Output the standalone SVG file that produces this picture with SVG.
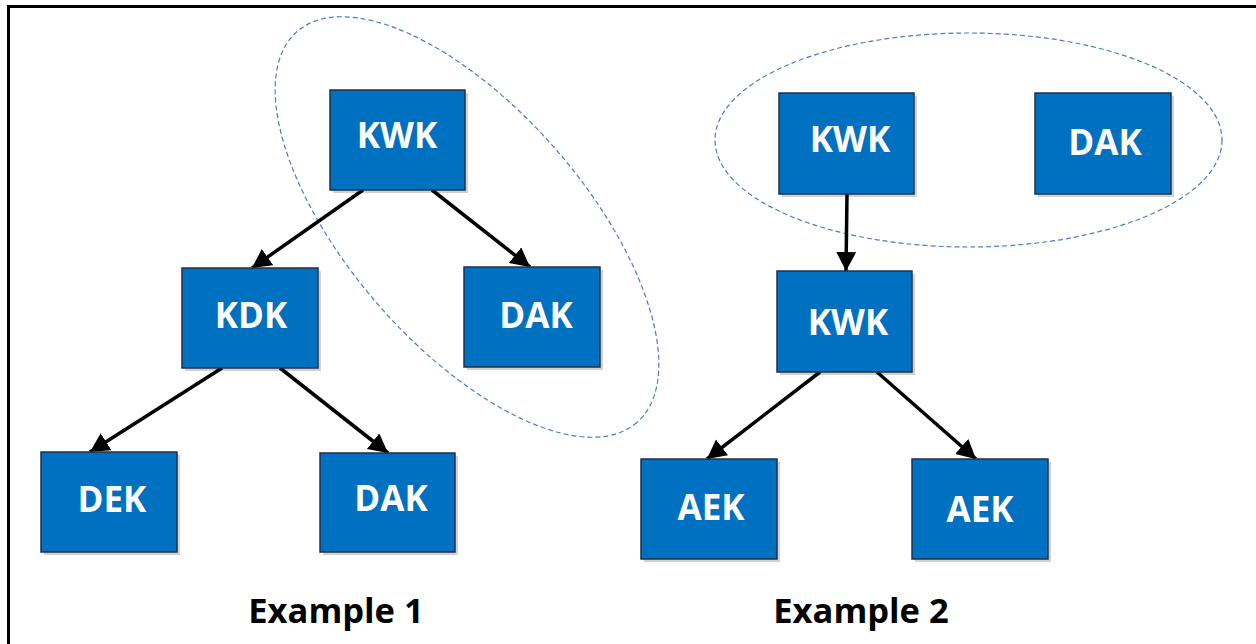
<svg xmlns="http://www.w3.org/2000/svg" width="1256" height="644" viewBox="0 0 1256 644">
  <style>
    .box { fill: #0070C0; stroke: #1F2F4A; stroke-width: 1.5; }
    .shadow { fill: #000; opacity: 0.18; }
    .lbl { font-family: "Open Sans", "Liberation Sans", sans-serif; font-weight: bold; font-size: 35px; fill: #FFFFFF; text-anchor: middle; }
    .cap { font-family: "Open Sans", "Liberation Sans", sans-serif; font-weight: bold; font-size: 34.5px; fill: #000000; text-anchor: middle; }
    .edge { stroke: #000; stroke-width: 3.5; fill: none; marker-end: url(#arr); }
    .group { fill: none; stroke: #4F7BC4; stroke-width: 1.2; stroke-dasharray: 5 3; }
  </style>
  <defs>
    <marker id="arr" markerUnits="userSpaceOnUse" markerWidth="22" markerHeight="22" viewBox="0 0 22 22" refX="19" refY="10" orient="auto">
      <path d="M0,0 L19,10 L0,20 z" fill="#000"/>
    </marker>
  </defs>
  <rect x="0" y="0" width="1256" height="644" fill="#FFFFFF"/>
  <path d="M8.5,650 L8.5,6.5 L1260,6.5" fill="none" stroke="#000" stroke-width="3"/>

  <g id="groups">
    <ellipse class="group" cx="467" cy="227" rx="259" ry="118" transform="rotate(49 467 227)"/>
    <ellipse class="group" cx="968.5" cy="140" rx="253.5" ry="107"/>
  </g>

  <g id="connectors">
    <line class="edge" x1="363" y1="190" x2="252" y2="268"/>
    <line class="edge" x1="432" y1="190" x2="530" y2="267"/>
    <line class="edge" x1="222" y1="368" x2="90" y2="452"/>
    <line class="edge" x1="280" y1="368" x2="388" y2="453"/>
    <line class="edge" x1="847" y1="194" x2="846" y2="271"/>
    <line class="edge" x1="820" y1="372" x2="707" y2="459"/>
    <line class="edge" x1="877" y1="372" x2="976" y2="459"/>
  </g>

  <g id="kwk1">
    <rect class="shadow" x="333" y="93" width="135" height="100"/>
    <rect class="box" x="330" y="90" width="135" height="100"/>
    <text class="lbl" x="397" y="148">KWK</text>
  </g>
  <g id="kdk">
    <rect class="shadow" x="185" y="271" width="136" height="100"/>
    <rect class="box" x="182" y="268" width="136" height="100"/>
    <text class="lbl" x="251" y="328">KDK</text>
  </g>
  <g id="dak1">
    <rect class="shadow" x="467" y="270" width="136" height="100"/>
    <rect class="box" x="464" y="267" width="136" height="100"/>
    <text class="lbl" x="536" y="328">DAK</text>
  </g>
  <g id="dek">
    <rect class="shadow" x="44" y="455" width="136" height="100"/>
    <rect class="box" x="41" y="452" width="136" height="100"/>
    <text class="lbl" x="112" y="512">DEK</text>
  </g>
  <g id="dak2">
    <rect class="shadow" x="323" y="456" width="135" height="99"/>
    <rect class="box" x="320" y="453" width="135" height="99"/>
    <text class="lbl" x="391" y="511">DAK</text>
  </g>
  <g id="kwk2">
    <rect class="shadow" x="782" y="96" width="135" height="101"/>
    <rect class="box" x="779" y="93" width="135" height="101"/>
    <text class="lbl" x="850" y="152">KWK</text>
  </g>
  <g id="dak3">
    <rect class="shadow" x="1038" y="96" width="136" height="101"/>
    <rect class="box" x="1035" y="93" width="136" height="101"/>
    <text class="lbl" x="1105" y="155">DAK</text>
  </g>
  <g id="kwk3">
    <rect class="shadow" x="780" y="274" width="135" height="101"/>
    <rect class="box" x="777" y="271" width="135" height="101"/>
    <text class="lbl" x="848" y="335">KWK</text>
  </g>
  <g id="aek1">
    <rect class="shadow" x="644" y="462" width="136" height="100"/>
    <rect class="box" x="641" y="459" width="136" height="100"/>
    <text class="lbl" x="711" y="520">AEK</text>
  </g>
  <g id="aek2">
    <rect class="shadow" x="915" y="462" width="136" height="100"/>
    <rect class="box" x="912" y="459" width="136" height="100"/>
    <text class="lbl" x="980" y="522">AEK</text>
  </g>

  <g id="captions">
    <text class="cap" x="336" y="623">Example 1</text>
    <text class="cap" x="861" y="623">Example 2</text>
  </g>
</svg>
